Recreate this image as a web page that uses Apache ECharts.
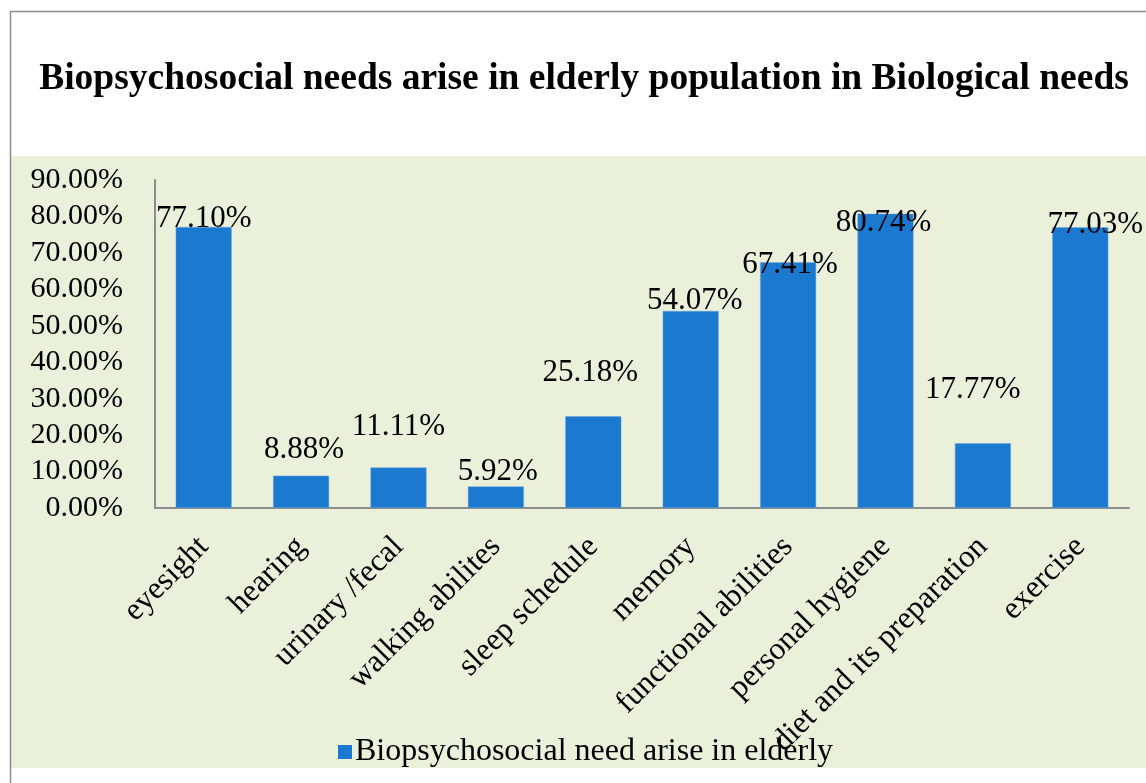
<!DOCTYPE html>
<html>
<head>
<meta charset="utf-8">
<script src="https://cdn.jsdelivr.net/npm/echarts@6/dist/echarts.min.js"></script>
<style>
  html, body { margin: 0; padding: 0; background: #ffffff; }
  #chart { width: 1146px; height: 783px; }
</style>
</head>
<body>
<div id="chart"></div>
<script>
// Share of elderly respondents reporting each biological need
const categories = [
  'eyesight', 'hearing', 'urinary /fecal', 'walking abilites', 'sleep schedule',
  'memory', 'functional abilities', 'personal hygiene', 'diet and its preparation', 'exercise'
];
const values = [77.10, 8.88, 11.11, 5.92, 25.18, 54.07, 67.41, 80.74, 17.77, 77.03];
const yTicks = { min: 0, max: 90, step: 10 };
const seriesName = 'Biopsychosocial need arise in elderly';
const titleText = 'Biopsychosocial needs arise in elderly population in Biological needs';

// Hand-placed value label nudges [dx, dy] so labels sit like the print layout
const labelNudge = [
  [0, 7], [3, -10], [0, -25], [2, 1], [-3, -28],
  [4, 5], [2, 18], [-2, 25], [-10, -38], [15, 13]
];

const serif = '"Liberation Serif", "Times New Roman", Times, serif';
const barColor = '#1b79d0';

const chart = echarts.init(document.getElementById('chart'), null, { renderer: 'canvas' });

chart.setOption({
  animation: false,
  backgroundColor: '#ffffff',
  graphic: [
    // tinted plot panel
    { type: 'rect', z: -10, silent: true,
      shape: { x: 11, y: 156, width: 1135, height: 612 },
      style: { fill: '#ebf0db' } },
    // frame edges
    { type: 'line', z: -5, silent: true,
      shape: { x1: 10.5, y1: 11, x2: 10.5, y2: 783 },
      style: { stroke: '#8c8c8c', lineWidth: 1.5 } },
    { type: 'line', z: -5, silent: true,
      shape: { x1: 10, y1: 11.5, x2: 1146, y2: 11.5 },
      style: { stroke: '#8c8c8c', lineWidth: 1.5 } }
  ],
  title: {
    text: titleText,
    left: 579,
    top: 55,
    textAlign: 'center',
    textStyle: { fontFamily: serif, fontWeight: 'bold', fontSize: 37.5, color: '#000' }
  },
  legend: {
    data: [seriesName],
    left: 333,
    top: 731,
    icon: 'rect',
    itemWidth: 14,
    itemHeight: 14,
    itemGap: 6,
    itemStyle: { borderWidth: 0 },
    textStyle: { fontFamily: serif, fontSize: 32, color: '#000', padding: [0, 0, 0, -2] }
  },
  grid: { left: 155, right: 17, top: 180, bottom: 275, containLabel: false },
  xAxis: {
    type: 'category',
    data: categories,
    axisLine: { lineStyle: { color: '#8c8c8c', width: 2 } },
    axisTick: { show: false },
    axisLabel: {
      interval: 0,
      rotate: 45,
      margin: 34,
      fontFamily: serif,
      fontSize: 31.5,
      color: '#000'
    }
  },
  yAxis: {
    type: 'value',
    min: yTicks.min,
    max: yTicks.max,
    interval: yTicks.step,
    splitLine: { show: false },
    axisLine: { show: true, lineStyle: { color: '#8c8c8c', width: 2 } },
    axisTick: { show: false },
    axisLabel: {
      margin: 32,
      fontFamily: serif,
      fontSize: 30,
      color: '#000',
      formatter: v => v.toFixed(2) + '%'
    }
  },
  series: [{
    name: seriesName,
    type: 'bar',
    barWidth: '57.5%',
    itemStyle: { color: barColor, borderColor: '#6aa6de', borderWidth: 0.5 },
    data: values.map((v, i) => ({
      value: v,
      label: { offset: labelNudge[i] }
    })),
    label: {
      show: true,
      position: 'top',
      distance: 0,
      fontFamily: serif,
      fontSize: 31,
      lineHeight: 31,
      color: '#000',
      formatter: p => p.value.toFixed(2) + '%'
    }
  }]
});
</script>
</body>
</html>
